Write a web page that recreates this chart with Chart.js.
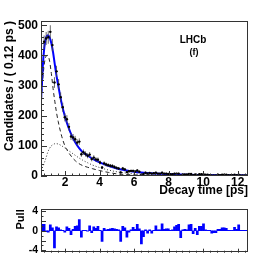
<!DOCTYPE html>
<html>
<head>
<meta charset="utf-8">
<script src="https://cdn.jsdelivr.net/npm/chart.js@4.4.1/dist/chart.umd.min.js"></script>
<style>
  html, body { margin: 0; padding: 0; background: #fff; }
  #wrap { position: relative; width: 262px; height: 262px; }
  #main { position: absolute; left: 0; top: 0; width: 262px; height: 200px; }
  #pull { position: absolute; left: 0; top: 200px; width: 262px; height: 62px; }
</style>
</head>
<body>
<div id="wrap">
  <canvas id="main" width="262" height="200"></canvas>
  <canvas id="pull" width="262" height="62"></canvas>
</div>
<script>
// binning: 100 bins of 0.12 ps from 0.6 to 12.6 ps
var binLow = 0.6;
var binWidth = 0.12;

// events per bin
var counts = [339,445,456,460,478,434,310,347,304,261,
              228,195,188,163,131,128,122,111,114,72,
              79,73,67,71,56,61,55,54,45,28,
              42,38,36,34,33,30,27,25,12,25,
              22,13,16,17,17,15,18,14,4,7,
              11,8,10,8,9,11,8,8,11,8,
              8,7,6,6,8,8,8,2,5,5,
              5,7,7,3,5,2,6,6,6,4,
              4,3,2,2,2,4,3,4,4,4,
              3,3,3,4,3,4,2,2,2,2];

// pull per bin
var pulls = [1.3,1.3,-0.2,-0.3,1.2,0.6,-3.5,0.8,0.6,0.2,
             0.1,-0.3,0.8,0.5,-0.8,0.3,0.9,1.0,2.3,-1.3,
             0.1,0.1,-0.1,1.0,-0.4,0.8,0.5,0.9,0.1,-2.2,
             0.5,0.2,0.3,0.4,0.5,0.4,0.3,0.2,-2.2,0.9,
             0.6,-1.3,-0.3,0.2,0.7,0.3,1.3,0.4,-2.7,-1.2,
             0.2,-0.5,0.2,-0.5,0.1,1.0,0.2,0.2,1.4,0.3,
             0.4,0.4,0.1,0.2,0.8,1.1,1.3,-1.4,0.2,0.3,
             0.2,1.2,1.3,-0.6,0.5,-0.8,0.9,0.9,1.4,0.2,
             0.1,0.1,-0.5,-0.4,-0.4,0.3,0.3,0.6,0.6,0.5,
             0.1,0.1,0.1,0.7,0.3,1.2,0.1,0.1,0.1,0.1];

// fit curves, sampled
var curveT    = [0.6,0.7,0.8,0.9,1.0,1.1,1.2,1.3,1.4,1.5,1.6,1.8,2.0,2.2,2.4,2.6,2.8,3.0,3.3,3.6,4.0,4.5,5.0,5.5,6.0,7.0,8.0,9.0,10.0,11.0,12.6];
var totalFit  = [250,360,430,460,467,460,440,410,370,332,300,240,195,160,132,110,93,80,68,57,45,34,25,19,14,9,6.5,4.5,3.5,2.8,2];
var dashedFit = [230,320,375,398,400,380,340,290,248,210,180,132,98,78,62,50,41,35,29,24,18,12,7,5,3.5,2,1.2,0.8,0.5,0.3,0.2];
var dottedFit = [18,30,45,62,80,92,100,104,107,107,106,100,92,84,76,68,60,53,44,36,28,20,14,10,7,3.5,1.8,1,0.5,0.3,0.1];

var xTickValues = [2, 4, 6, 8, 10, 12];
var xRange = { min: 0.6, max: 12.6, minor: 0.4 };

var binCenters = [];
for (var i = 0; i < counts.length; i++) binCenters.push(+(binLow + binWidth * (i + 0.5)).toFixed(3));

function pts(xs, ys) {
  var out = [];
  for (var i = 0; i < xs.length; i++) out.push({ x: xs[i], y: ys[i] });
  return out;
}

var fontFam = '"Liberation Sans", Arial, Helvetica, sans-serif';

// ROOT-like frame with ticks on the inside
function frameTicks(opts) {
  return {
    id: 'frameTicks',
    afterDraw: function(chart) {
      var ctx = chart.ctx, a = chart.chartArea;
      var xs = chart.scales.x, ys = chart.scales.y;
      ctx.save();
      ctx.strokeStyle = '#333';
      ctx.lineWidth = 1;
      ctx.strokeRect(Math.round(a.left) + 0.5, Math.round(a.top) + 0.5,
                     Math.round(a.right - a.left) - 1, Math.round(a.bottom - a.top) - 1);
      ctx.beginPath();
      var v, p;
      for (v = opts.yMinorStart; v <= ys.max + 1e-9; v += opts.yMinor) {
        p = Math.round(ys.getPixelForValue(v)) + 0.5;
        var major = Math.abs(v / opts.yMajor - Math.round(v / opts.yMajor)) < 1e-6;
        ctx.moveTo(a.left, p);
        ctx.lineTo(a.left + (major ? opts.yLen : opts.yLen / 2), p);
      }
      for (v = opts.xMinorStart; v <= xs.max + 1e-9; v += xRange.minor) {
        p = Math.round(xs.getPixelForValue(v)) + 0.5;
        var majorX = Math.abs(v / 2 - Math.round(v / 2)) < 1e-6;
        ctx.moveTo(p, a.bottom);
        ctx.lineTo(p, a.bottom - (majorX ? opts.xLen : opts.xLen / 2));
      }
      ctx.stroke();
      ctx.restore();
    }
  };
}

// error bars and markers for the data points
var errorBars = {
  id: 'errorBars',
  afterDatasetsDraw: function(chart) {
    var ctx = chart.ctx, xs = chart.scales.x, ys = chart.scales.y, a = chart.chartArea;
    ctx.save();
    ctx.beginPath();
    ctx.rect(a.left, a.top, a.right - a.left, a.bottom - a.top);
    ctx.clip();
    ctx.strokeStyle = '#444';
    ctx.lineWidth = 0.8;
    ctx.beginPath();
    for (var i = 0; i < counts.length; i++) {
      var n = counts[i], e = Math.sqrt(n);
      var px = xs.getPixelForValue(binCenters[i]);
      var y1 = ys.getPixelForValue(n - e), y2 = ys.getPixelForValue(n + e);
      var xl = xs.getPixelForValue(binCenters[i] - binWidth / 2);
      var xr = xs.getPixelForValue(binCenters[i] + binWidth / 2);
      var py = ys.getPixelForValue(n);
      ctx.moveTo(px, y1); ctx.lineTo(px, y2);
      ctx.moveTo(xl, py); ctx.lineTo(xr, py);
    }
    ctx.stroke();
    ctx.fillStyle = '#000';
    for (var j = 0; j < counts.length; j++) {
      ctx.beginPath();
      ctx.arc(xs.getPixelForValue(binCenters[j]), ys.getPixelForValue(counts[j]), 1.2, 0, Math.PI * 2);
      ctx.fill();
    }
    ctx.restore();
  }
};

var labels = {
  id: 'labels',
  afterDraw: function(chart) {
    var ctx = chart.ctx;
    ctx.save();
    ctx.fillStyle = '#000';
    ctx.textAlign = 'center';
    ctx.textBaseline = 'middle';
    ctx.font = 'bold 10px ' + fontFam;
    ctx.fillText('LHCb', 193, 40);
    ctx.font = 'bold 9px ' + fontFam;
    ctx.fillText('(f)', 194, 53);
    ctx.restore();
  }
};

function setXTicks(s) {
  s.ticks = xTickValues.map(function(v) { return { value: v }; });
}

var tickFont = { family: fontFam, size: 12, weight: 'bold' };

new Chart(document.getElementById('main'), {
  type: 'scatter',
  data: {
    datasets: [
      { type: 'line', data: pts(curveT, totalFit), borderColor: '#0000ff', borderWidth: 2,
        pointRadius: 0, cubicInterpolationMode: 'monotone', fill: false, order: 1 },
      { type: 'line', data: pts(curveT, dashedFit), borderColor: '#222', borderWidth: 1,
        borderDash: [4, 3], pointRadius: 0, cubicInterpolationMode: 'monotone', fill: false, order: 2 },
      { type: 'line', data: pts(curveT, dottedFit), borderColor: '#333', borderWidth: 1,
        borderDash: [1, 2], pointRadius: 0, cubicInterpolationMode: 'monotone', fill: false, order: 3 }
    ]
  },
  options: {
    responsive: false,
    animation: false,
    events: [],
    layout: { padding: { left: 0, right: 14, top: 21, bottom: 0 } },
    plugins: { legend: { display: false }, tooltip: { enabled: false } },
    scales: {
      x: {
        type: 'linear', min: xRange.min, max: xRange.max,
        grid: { display: false, drawTicks: false }, border: { display: false },
        afterBuildTicks: setXTicks,
        ticks: { color: '#000', font: tickFont, padding: -1, maxRotation: 0, autoSkip: false },
        title: { display: true, text: 'Decay time [ps]', align: 'end', color: '#000', font: tickFont,
                 padding: { top: 0, bottom: 2 } },
        afterFit: function(s) { s.height = 24; }
      },
      y: {
        min: 0, max: 514,
        grid: { display: false, drawTicks: false }, border: { display: false },
        ticks: { stepSize: 100, includeBounds: false, color: '#000', font: tickFont, padding: 3 },
        title: { display: true, text: 'Candidates / ( 0.12 ps )', align: 'end', color: '#000', font: tickFont,
                 padding: { top: 2, bottom: 0 } },
        afterFit: function(s) { s.width = 41; }
      }
    }
  },
  plugins: [errorBars, labels,
            frameTicks({ yMajor: 100, yMinor: 20, yMinorStart: 0, yLen: 6, xMinorStart: 0.8, xLen: 5 })]
});

new Chart(document.getElementById('pull'), {
  type: 'bar',
  data: {
    datasets: [
      { data: pts(binCenters, pulls), backgroundColor: '#0000ff', borderWidth: 0,
        barPercentage: 1, categoryPercentage: 1 }
    ]
  },
  options: {
    responsive: false,
    animation: false,
    events: [],
    layout: { padding: { left: 0, right: 14, top: 5, bottom: 0 } },
    plugins: { legend: { display: false }, tooltip: { enabled: false } },
    scales: {
      x: {
        type: 'linear', min: xRange.min, max: xRange.max, offset: false,
        grid: { display: false, drawTicks: false, offset: false }, border: { display: false },
        ticks: { display: false },
        afterFit: function(s) { s.height = 8; }
      },
      y: {
        min: -4.5, max: 4.4,
        grid: { display: false, drawTicks: false }, border: { display: false },
        ticks: { stepSize: 2, includeBounds: false, color: '#000',
                 font: { family: fontFam, size: 10.5, weight: 'bold' }, padding: 3 },
        title: { display: true, text: 'Pull', align: 'end', color: '#000',
                 font: { family: fontFam, size: 11, weight: 'bold' }, padding: { top: 14, bottom: 0 } },
        afterFit: function(s) { s.width = 41; }
      }
    }
  },
  plugins: [frameTicks({ yMajor: 2, yMinor: 1, yMinorStart: -4, yLen: 5, xMinorStart: 0.8, xLen: 4 })]
});
</script>
</body>
</html>
